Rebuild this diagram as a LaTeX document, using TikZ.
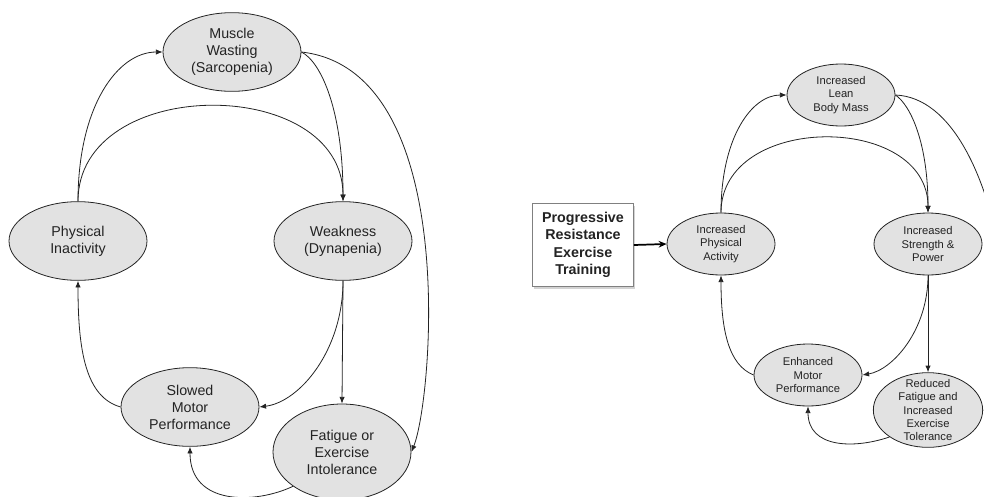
\documentclass[tikz,border=0pt]{standalone}
\usepackage{fontspec}
\setmainfont{Liberation Sans}
\usetikzlibrary{shapes.geometric,shadows,arrows.meta}
\definecolor{cellgray}{RGB}{226,226,226}
\definecolor{inkgray}{RGB}{35,35,35}

\begin{document}
\begin{tikzpicture}[x=0.75pt,y=0.75pt,yscale=-1,xscale=1,
  bigcell/.style={ellipse,draw=inkgray,fill=cellgray,line width=0.6pt,inner sep=0pt,
    minimum width=103.5pt,minimum height=59pt,align=center,text=inkgray,
    font=\fontsize{10.7}{12.75}\selectfont},
  smallcell/.style={ellipse,draw=inkgray,fill=cellgray,line width=0.6pt,inner sep=0pt,
    minimum width=81pt,minimum height=46.5pt,align=center,text=inkgray,
    font=\fontsize{8.4}{10}\selectfont},
  trainbox/.style={rectangle,draw=gray,fill=white,line width=0.6pt,
    minimum width=75.75pt,minimum height=62.25pt,align=center,text=inkgray,
    font=\bfseries\fontsize{10.7}{13}\selectfont,
    drop shadow={shadow xshift=1.2pt,shadow yshift=-1.5pt,opacity=0.35}},
  link/.style={->,>={Latex[length=5pt,width=4pt]},line width=0.6pt,inkgray},
  push/.style={->,>={Stealth[length=6pt,width=5pt]},line width=1.3pt,black}]

\useasboundingbox (0,0) rectangle (984,496);
\clip (0,0) rectangle (984,496);

% left cycle
\node[bigcell] (wasting) at (232,52) {Muscle\\Wasting\\(Sarcopenia)};
\node[bigcell] (inactivity) at (78,241) {Physical\\Inactivity};
\node[bigcell] (weakness) at (343,241) {Weakness\\(Dynapenia)};
\node[bigcell] (slowed) at (190,407) {Slowed\\Motor\\Performance};
\node[bigcell,minimum height=72pt] (fatigue) at (342,452) {Fatigue or\\Exercise\\Intolerance};

\draw[link] (inactivity.north) .. controls +(0,-95) and +(-45,0) .. (wasting.west);
\draw[link] (inactivity.north) .. controls +(0,-127) and +(0,-127) .. (weakness.north);
\draw[link] (wasting.east) .. controls +(20,10) and +(0,-90) .. (weakness.north);
\draw[link] (wasting.east) .. controls +(160,18) and +(21,-52) .. (fatigue.east);
\draw[link] (weakness.south) -- (fatigue.north);
\draw[link] (weakness.south) .. controls +(0,70) and +(40,-5) .. (slowed.east);
\draw[link] (slowed.west) .. controls +(-35,-10) and +(0,70) .. (inactivity.south);
\draw[link] (fatigue.215) .. controls +(-38,18) and +(0,59) .. (slowed.south);

% right cycle
\node[trainbox] (training) at (583,245) {Progressive\\Resistance\\Exercise\\Training};
\node[smallcell] (lean) at (841,95) {Increased\\Lean\\Body Mass};
\node[smallcell] (activity) at (721,244) {Increased\\Physical\\Activity};
\node[smallcell] (strength) at (928,244) {Increased\\Strength \&\\Power};
\node[smallcell] (enhanced) at (808,375) {Enhanced\\Motor\\Performance};
\node[smallcell,inner sep=-8pt,minimum width=82pt,minimum height=56pt] (reduced) at (928,410) {Reduced\\Fatigue and\\Increased\\Exercise\\Tolerance};

\draw[push] (training.east) -- (activity.west);
\draw[link] (activity.north) .. controls +(0,-75) and +(-35,0) .. (lean.west);
\draw[link] (activity.north) .. controls +(0,-100) and +(0,-100) .. (strength.north);
\draw[link] (lean.east) .. controls +(15,10) and +(0,-70) .. (strength.north);
\draw[link] (lean.east) .. controls +(115,5) and +(48,10) .. (reduced.east);
\draw[link] (strength.south) -- (reduced.north);
\draw[link] (strength.south) .. controls +(0,55) and +(30,-5) .. (enhanced.east);
\draw[link] (enhanced.west) .. controls +(-25,-10) and +(0,55) .. (activity.south);
\draw[link] (reduced.215) .. controls +(-35,12) and +(0,42) .. (enhanced.south);

\end{tikzpicture}
\end{document}
